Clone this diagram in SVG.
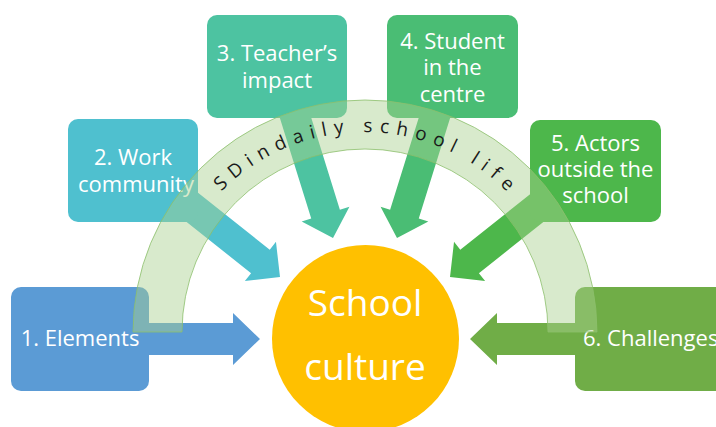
<svg xmlns="http://www.w3.org/2000/svg" width="716" height="427" viewBox="0 0 716 427">
<style>
.box{stroke:none}
.lbl{font-family:"Open Sans","Liberation Sans",sans-serif;font-size:22px;fill:#ffffff;text-anchor:middle}
.big{font-family:"Open Sans","Liberation Sans",sans-serif;font-size:37px;fill:#ffffff;text-anchor:middle}
.arc{font-family:"Open Sans","Liberation Sans",sans-serif;font-size:19px;fill:#1a1a1a}
</style>
<defs>
<path id="textArc" d="M 163 333 A 201 201 0 0 1 565 333"/>
</defs>
<rect width="716" height="427" fill="#ffffff"/>
<g id="connectors">
<polygon fill="#5B9BD5" points="140,323 233,323 233,313 260,339 233,365 233,355 140,355"/>
<polygon fill="#4FC0CF" points="187.33,184.25 269.75,249.7 275.97,241.87 280,277 244.87,281.03 251.09,273.2 168.67,207.75"/>
<polygon fill="#4DC3A1" points="275.67,104.46 311.23,218.58 301.68,221.56 333,238 349.44,206.68 339.89,209.66 304.33,95.54"/>
<polygon fill="#4ABD74" points="454.33,104.46 418.77,218.58 428.32,221.56 397,238 380.56,206.68 390.11,209.66 425.67,95.54"/>
<polygon fill="#4DB74B" points="542.67,184.25 460.25,249.7 454.03,241.87 450,277 485.13,281.03 478.91,273.2 561.33,207.75"/>
<polygon fill="#70AD47" points="585,323 497,323 497,313 470,339 497,365 497,355 585,355"/>
</g>
<g id="n1"><rect class="box" x="11" y="287" width="138" height="104" rx="10" fill="#5B9BD5"/><text class="lbl" x="80" y="346">1. Elements</text></g>
<g id="n2"><rect class="box" x="68" y="119" width="130" height="103" rx="10" fill="#4FC0CF"/><text class="lbl" x="133" y="165">2. Work</text><text class="lbl" x="136" y="192">community</text></g>
<g id="n3"><rect class="box" x="207" y="15" width="140" height="103" rx="10" fill="#4DC3A1"/><text class="lbl" x="277" y="61">3. Teacher’s</text><text class="lbl" x="277" y="88">impact</text></g>
<g id="n4"><rect class="box" x="387" y="15" width="131" height="103" rx="10" fill="#4ABD74"/><text class="lbl" x="452.5" y="49">4. Student</text><text class="lbl" x="452.5" y="75">in the</text><text class="lbl" x="452.5" y="102">centre</text></g>
<g id="n5"><rect class="box" x="530" y="120" width="131" height="102" rx="10" fill="#4DB74B"/><text class="lbl" x="595.5" y="151">5. Actors</text><text class="lbl" x="595.5" y="177">outside the</text><text class="lbl" x="595.5" y="203">school</text></g>
<g id="n6"><rect class="box" x="575" y="287" width="152" height="104" rx="10" fill="#70AD47"/><text class="lbl" x="583" y="346" style="text-anchor:start">6. Challenges</text></g>
<g id="band">
<path d="M 133 332 A 232 232 0 0 1 597 332 L 548 332 A 183 183 0 0 0 182 332 Z" fill="#A9D18E" fill-opacity="0.45" stroke="#8CBF6C" stroke-opacity="0.8" stroke-width="1"/>
<text class="arc"><textPath href="#textArc" startOffset="157" textLength="318" lengthAdjust="spacing">SDindaily school life</textPath></text>
</g>
<g id="center">
<circle cx="365.5" cy="338.5" r="93.5" fill="#FFC000"/>
<text class="big" x="365" y="316">School</text>
<text class="big" x="365" y="380">culture</text>
</g>
</svg>
